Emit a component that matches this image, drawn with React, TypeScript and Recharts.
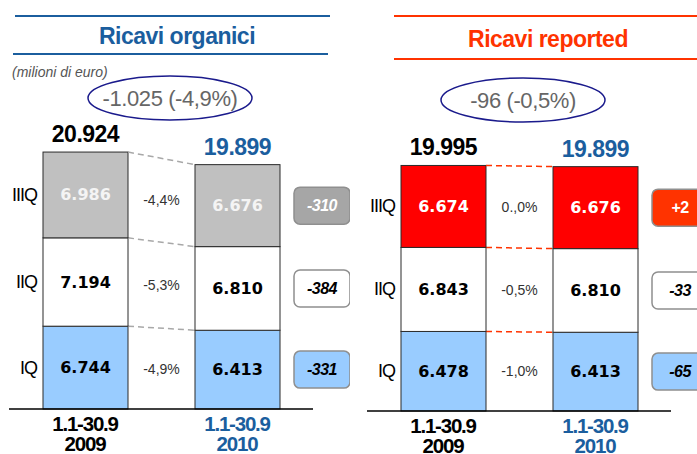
import React from "react";
import { BarChart, Bar, XAxis, YAxis } from "recharts";

// values in million euro, index 0 = 2009, index 1 = 2010
const periods = ["2009", "2010"];
const periodLabel = "1.1-30.9";
const quarters = ["IQ", "IIQ", "IIIQ"];

const organicQ1 = [6744, 6413];
const organicQ2 = [7194, 6810];
const organicQ3 = [6986, 6676];
const organicTotals = [20924, 19899];
const organicDeltas = ["-331", "-384", "-310"];
const organicPct = ["-4,9%", "-5,3%", "-4,4%"];
const organicHeadline = "-1.025 (-4,9%)";

const reportedQ1 = [6478, 6413];
const reportedQ2 = [6843, 6810];
const reportedQ3 = [6674, 6676];
const reportedTotals = [19995, 19899];
const reportedDeltas = ["-65", "-33", "+2"];
const reportedPct = ["-1,0%", "-0,5%", "0.,0%"];
const reportedHeadline = "-96 (-0,5%)";

const BLUE = "#1B5E9E";
const ORANGE = "#FF3300";
const PLOT_W = 304;
const BAND = PLOT_W / periods.length;

const fmt = (n: number) => String(n).replace(/\B(?=(\d{3})+(?!\d))/g, ".");

type Panel = {
  q: number[][];
  totals: number[];
  deltas: string[];
  pct: string[];
  fills: string[];
  textFills: string[];
  boxFills: string[];
  boxText: string[];
  boxItalic: boolean[];
  dash: string;
};

const organic: Panel = {
  q: [organicQ1, organicQ2, organicQ3],
  totals: organicTotals,
  deltas: organicDeltas,
  pct: organicPct,
  fills: ["#99CCFF", "#FFFFFF", "#C0C0C0"],
  textFills: ["#000", "#000", "#F4F4F4"],
  boxFills: ["#99CCFF", "#FFFFFF", "#A6A6A6"],
  boxText: ["#000", "#000", "#FFFFFF"],
  boxItalic: [true, true, true],
  dash: "#A8A8A8",
};

const reported: Panel = {
  q: [reportedQ1, reportedQ2, reportedQ3],
  totals: reportedTotals,
  deltas: reportedDeltas,
  pct: reportedPct,
  fills: ["#99CCFF", "#FFFFFF", "#FF0000"],
  textFills: ["#000", "#000", "#FFFFFF"],
  boxFills: ["#99CCFF", "#FFFFFF", ORANGE],
  boxText: ["#000", "#000", "#FFFFFF"],
  boxItalic: [true, true, false],
  dash: ORANGE,
};

const sum = (arr: number[][], upto: number, col: number) => {
  let s = 0;
  for (let i = 0; i < upto; i++) s += arr[i][col];
  return s;
};

function makeShape(panel: Panel, qi: number) {
  return (props: any) => {
    const { x, y, width, height, index } = props;
    const cx = x + width / 2;
    const cy = y + height / 2;
    const isLast = qi === panel.q.length - 1;
    const parts: React.ReactNode[] = [
      <rect key="r" x={x} y={y} width={width} height={height} fill={panel.fills[qi]} stroke="#2A2A2A" strokeWidth={1} />,
      <text key="v" x={cx} y={cy} textAnchor="middle" dominantBaseline="central" fill={panel.textFills[qi]}
        fontFamily="DejaVu Sans" fontWeight="bold" fontSize={16}>
        {fmt(panel.q[qi][index])}
      </text>,
    ];
    if (isLast) {
      parts.push(
        <text key="t" x={cx} y={y - 10} textAnchor="middle" fill={index === 0 ? "#000" : BLUE}
          fontFamily="Liberation Sans" fontWeight="bold" fontSize={23} letterSpacing={-0.5}>
          {fmt(panel.totals[index])}
        </text>
      );
    }
    if (index === 0) {
      parts.push(
        <text key="q" x={x - 6} y={cy} textAnchor="end" dominantBaseline="central" fill="#000"
          fontFamily="Liberation Sans" fontSize={18} letterSpacing={-1}>
          {quarters[qi]}
        </text>
      );
    } else {
      // locate the same segment of the previous bar through this segment's pixel scale
      const k = height / panel.q[qi][1];
      const below2 = sum(panel.q, qi, 1);
      const yTop1 = y + height - (sum(panel.q, qi + 1, 0) - below2) * k;
      const yBot1 = y + height - (sum(panel.q, qi, 0) - below2) * k;
      const x1Right = x - BAND + width;
      parts.push(
        <line key="c" x1={x1Right} y1={yTop1} x2={x} y2={y} stroke={panel.dash} strokeWidth={1.5} strokeDasharray="6 4" />,
        <text key="p" x={(x1Right + x) / 2} y={((yTop1 + yBot1) / 2 + cy) / 2} textAnchor="middle" dominantBaseline="central"
          fill="#333" fontFamily="Liberation Sans" fontSize={14}>
          {panel.pct[qi]}
        </text>,
        <rect key="b" x={x + width + 14} y={cy - 18.5} width={56} height={37} rx={6} fill={panel.boxFills[qi]}
          stroke="#8F8F8F" strokeWidth={1.5} />,
        <text key="bt" x={x + width + 42} y={cy} textAnchor="middle" dominantBaseline="central" fill={panel.boxText[qi]}
          fontFamily="Liberation Sans" fontWeight="bold" fontStyle={panel.boxItalic[qi] ? "italic" : "normal"}
          fontSize={16} letterSpacing={-0.5}>
          {panel.deltas[qi]}
        </text>
      );
    }
    return <g>{parts}</g>;
  };
}

const PeriodTick = (props: any) => {
  const { x, y, payload } = props;
  const fill = payload.value === periods[0] ? "#000" : BLUE;
  return (
    <text x={x} y={y + 22} textAnchor="middle" fill={fill}
      style={{ fontFamily: "Liberation Sans", fontWeight: "bold", fontSize: 20.5, letterSpacing: -1.2 }}>
      <tspan x={x}>{periodLabel}</tspan>
      <tspan x={x} dy={19.5}>{payload.value}</tspan>
    </text>
  );
};

function PanelChart({ panel, left, marginLeft, marginTop, axisH }: { panel: Panel; left: number; marginLeft: number; marginTop: number; axisH: number }) {
  const data = periods.map((p, i) => ({ period: p, q1: panel.q[0][i], q2: panel.q[1][i], q3: panel.q[2][i] }));
  const svgW = 350;
  return (
    <div style={{ position: "absolute", left, top: 0 }}>
      <BarChart width={svgW} height={454} data={data} barSize={85}
        margin={{ top: marginTop, right: svgW - marginLeft - PLOT_W, bottom: 0, left: marginLeft }}
        style={{ overflow: "visible" }}>
        <YAxis hide domain={[0, 25000]} />
        <XAxis dataKey="period" height={axisH} tickLine={false} tickSize={0} tickMargin={0}
          axisLine={{ stroke: "#000", strokeWidth: 1.5 }} tick={<PeriodTick />} interval={0} />
        {["q1", "q2", "q3"].map((k, qi) => (
          <Bar key={k} dataKey={k} stackId="a" isAnimationActive={false} shape={makeShape(panel, qi)} />
        ))}
      </BarChart>
    </div>
  );
}

export default function App() {
  return (
    <div style={{ position: "absolute", left: 0, top: 0, width: 697, height: 454, overflow: "hidden", background: "#fff" }}>
      <PanelChart panel={organic} left={0} marginLeft={9} marginTop={102} axisH={45} />
      <PanelChart panel={reported} left={350} marginLeft={17} marginTop={104} axisH={43} />
      <svg width={697} height={454} style={{ position: "absolute", left: 0, top: 0, pointerEvents: "none" }}>
        <line x1={15} y1={16} x2={330} y2={16} stroke={BLUE} strokeWidth={2} />
        <line x1={13} y1={54} x2={328} y2={54} stroke={BLUE} strokeWidth={2} />
        <text x={177} y={44} textAnchor="middle" fill={BLUE} fontFamily="Liberation Sans" fontWeight="bold" fontSize={23} letterSpacing={-0.5}>
          Ricavi organici
        </text>
        <line x1={394} y1={16} x2={697} y2={16} stroke={ORANGE} strokeWidth={2} />
        <line x1={394} y1={59} x2={697} y2={59} stroke={ORANGE} strokeWidth={2} />
        <text x={548} y={47} textAnchor="middle" fill={ORANGE} fontFamily="Liberation Sans" fontWeight="bold" fontSize={23} letterSpacing={-0.5}>
          Ricavi reported
        </text>
        <text x={12} y={77} fill="#555" fontFamily="Liberation Sans" fontStyle="italic" fontSize={14}>
          (milioni di euro)
        </text>
        <ellipse cx={170} cy={98} rx={82} ry={22} fill="none" stroke="#1A1A8C" strokeWidth={1.5} />
        <text x={170} y={106} textAnchor="middle" fill="#666" fontFamily="Liberation Sans" fontSize={22} letterSpacing={-0.4}>
          {organicHeadline}
        </text>
        <ellipse cx={523} cy={100} rx={82} ry={22} fill="none" stroke="#1A1A8C" strokeWidth={1.5} />
        <text x={523} y={108} textAnchor="middle" fill="#666" fontFamily="Liberation Sans" fontSize={22} letterSpacing={-0.4}>
          {reportedHeadline}
        </text>
      </svg>
    </div>
  );
}
